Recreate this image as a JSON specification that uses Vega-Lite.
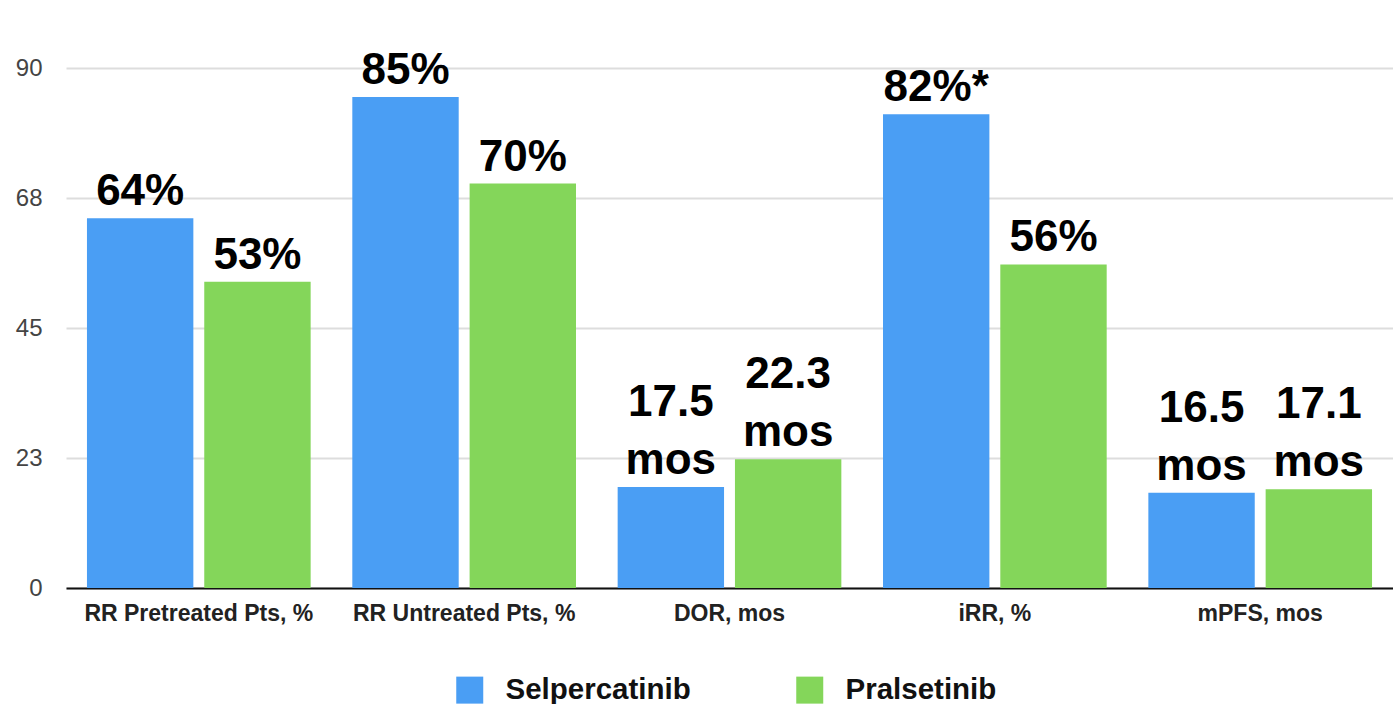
{
  "$schema": "https://vega.github.io/schema/vega-lite/v6.json",
  "autosize": "none",
  "padding": {"left": 66, "top": 68, "right": 0, "bottom": 116},
  "width": 1327,
  "height": 520,
  "background": "white",
  "config": {
    "view": {"stroke": null},
    "font": "Liberation Sans"
  },
  "data": {
    "values": [
      {"metric": "RR Pretreated Pts, %", "drug": "Selpercatinib", "value": 64, "label": "64%"},
      {"metric": "RR Pretreated Pts, %", "drug": "Pralsetinib", "value": 53, "label": "53%"},
      {"metric": "RR Untreated Pts, %", "drug": "Selpercatinib", "value": 85, "label": "85%"},
      {"metric": "RR Untreated Pts, %", "drug": "Pralsetinib", "value": 70, "label": "70%"},
      {"metric": "DOR, mos", "drug": "Selpercatinib", "value": 17.5, "label": "17.5\nmos"},
      {"metric": "DOR, mos", "drug": "Pralsetinib", "value": 22.3, "label": "22.3\nmos"},
      {"metric": "iRR, %", "drug": "Selpercatinib", "value": 82, "label": "82%*"},
      {"metric": "iRR, %", "drug": "Pralsetinib", "value": 56, "label": "56%"},
      {"metric": "mPFS, mos", "drug": "Selpercatinib", "value": 16.5, "label": "16.5\nmos"},
      {"metric": "mPFS, mos", "drug": "Pralsetinib", "value": 17.1, "label": "17.1\nmos"}
    ]
  },
  "encoding": {
    "x": {
      "field": "metric",
      "type": "nominal",
      "sort": null,
      "scale": {"paddingInner": 0.157, "paddingOuter": 0.079},
      "axis": {
        "title": null,
        "labelAngle": 0,
        "labelFontWeight": "bold",
        "labelFontSize": 23,
        "labelColor": "#222222",
        "labelPadding": 14,
        "labelLimit": 0,
        "ticks": false,
        "domain": true,
        "domainColor": "#111111",
        "domainWidth": 2
      }
    },
    "xOffset": {
      "field": "drug",
      "type": "nominal",
      "sort": ["Selpercatinib", "Pralsetinib"],
      "scale": {"paddingInner": 0.093, "paddingOuter": 0}
    },
    "y": {
      "field": "value",
      "type": "quantitative",
      "scale": {"domain": [0, 90], "nice": false},
      "axis": {
        "title": null,
        "values": [0, 22.5, 45, 67.5, 90],
        "format": ".0f",
        "grid": true,
        "gridColor": "#dddddd",
        "gridWidth": 2,
        "domain": false,
        "ticks": false,
        "labelPadding": 24,
        "labelFontSize": 24,
        "labelColor": "#444444"
      }
    }
  },
  "layer": [
    {
      "mark": {"type": "bar"},
      "encoding": {
        "color": {
          "field": "drug",
          "type": "nominal",
          "scale": {"domain": ["Selpercatinib", "Pralsetinib"], "range": ["#4a9ef4", "#84d65a"]},
          "legend": {
            "title": null,
            "orient": "none",
            "direction": "horizontal",
            "legendX": 389,
            "legendY": 607,
            "padding": 0,
            "symbolType": "square",
            "symbolSize": 729,
            "symbolStrokeWidth": 0,
            "symbolOpacity": 1,
            "labelFontSize": 29.5,
            "labelFontWeight": "bold",
            "labelColor": "#111111",
            "labelOffset": 21,
            "labelLimit": 0,
            "columnPadding": 104
          }
        }
      }
    },
    {
      "transform": [{"filter": "indexof(datum.label, '\\n') < 0"}],
      "mark": {
        "type": "text",
        "baseline": "bottom",
        "dy": -4,
        "fontSize": 44,
        "fontWeight": "bold",
        "color": "#000000"
      },
      "encoding": {
        "text": {"field": "label"}
      }
    },
    {
      "transform": [{"filter": "indexof(datum.label, '\\n') >= 0"}],
      "mark": {
        "type": "text",
        "baseline": "bottom",
        "dy": -62,
        "fontSize": 44,
        "fontWeight": "bold",
        "color": "#000000",
        "lineBreak": "\n",
        "lineHeight": 58
      },
      "encoding": {
        "text": {"field": "label"}
      }
    }
  ]
}
